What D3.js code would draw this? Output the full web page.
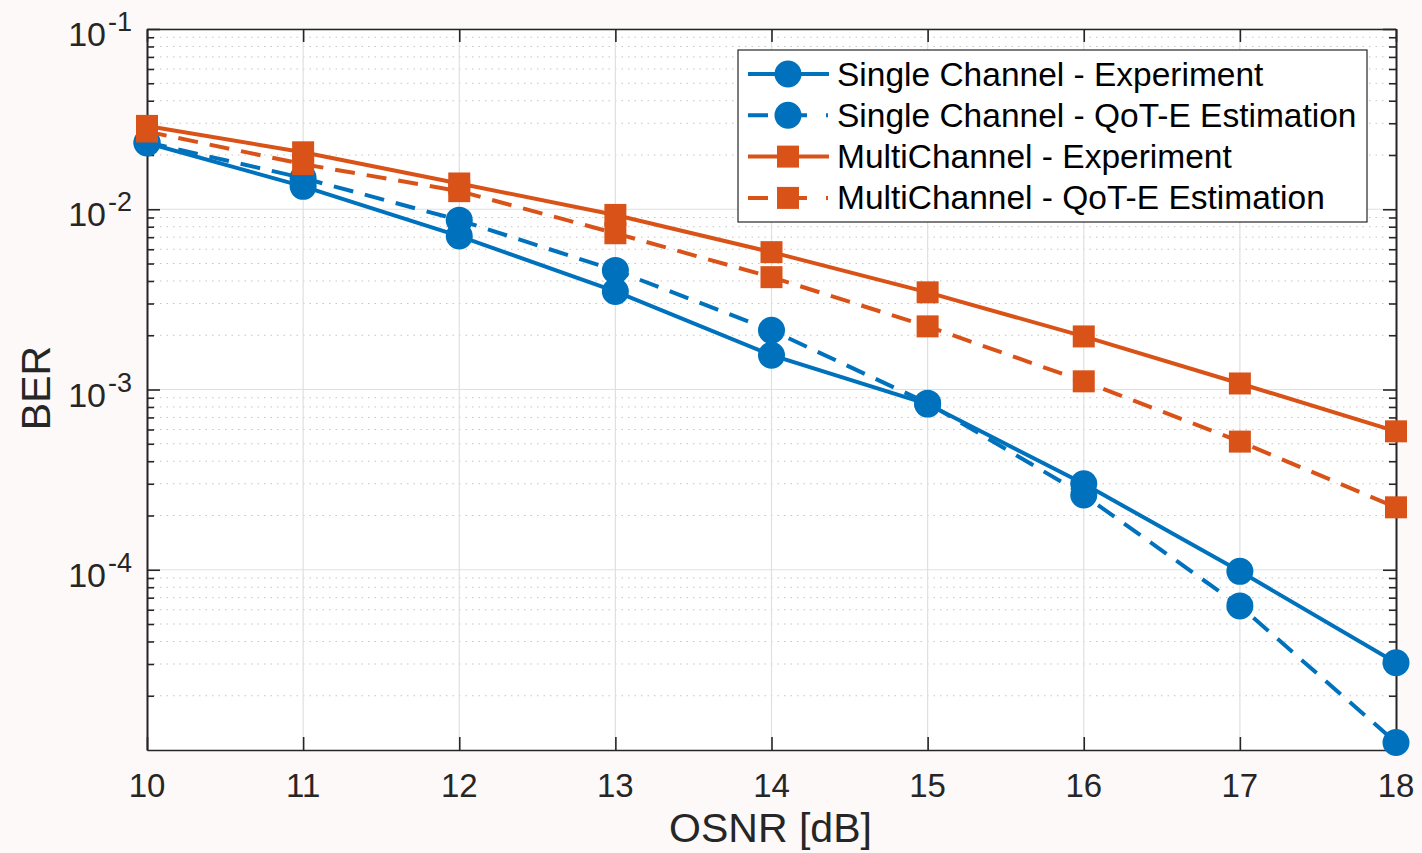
<!DOCTYPE html>
<html>
<head>
<meta charset="utf-8">
<script src="https://cdn.jsdelivr.net/npm/d3@7"></script>
<style>
  body { margin: 0; background: #fdf9f8; }
  text { font-family: Arial, "Liberation Sans", Helvetica, sans-serif; fill: #262626; }
</style>
</head>
<body>
<div class="canva"></div>
<script>
// data
var osnr = [10, 11, 12, 13, 14, 15, 16, 17, 18];
var singleExp = [0.0233, 0.0134, 0.0071, 0.0035, 0.00155, 0.00083, 0.00030, 0.000098, 0.0000305];
var singleEst = [0.0235, 0.0149, 0.0087, 0.00458, 0.00213, 0.00084, 0.00026, 0.000063, 0.000011];
var multiExp = [0.029, 0.0207, 0.0139, 0.0093, 0.00578, 0.00346, 0.00197, 0.00108, 0.000586];
var multiEst = [0.027, 0.0178, 0.0126, 0.00736, 0.0042, 0.00224, 0.00111, 0.000514, 0.000222];
var seriesNames = ['Single Channel - Experiment', 'Single Channel - QoT-E Estimation',
                   'MultiChannel - Experiment', 'MultiChannel - QoT-E Estimation'];
var yTickExp = [-1, -2, -3, -4];

const blue = '#0072bd', orange = '#d95319';
const series = [
  {name: seriesNames[0], values: singleExp, color: blue, dash: null, marker: 'circle'},
  {name: seriesNames[1], values: singleEst, color: blue, dash: '20,12', marker: 'circle'},
  {name: seriesNames[2], values: multiExp, color: orange, dash: null, marker: 'square'},
  {name: seriesNames[3], values: multiEst, color: orange, dash: '20,12', marker: 'square'},
];

const svg = d3.select('.canva').append('svg')
    .attr('width', 1422)
    .attr('height', 853);

const margin = {top: 29, left: 147};
const graphWidth = 1249;
const graphHeight = 721;

const g = svg.append('g')
    .attr('transform', `translate(${margin.left},${margin.top})`);

var x = d3.scaleLinear().domain([10, 18]).range([0, graphWidth]);
var y = d3.scaleLog().domain([1e-5, 1e-1]).range([graphHeight, 0]);

g.append('rect')
    .attr('width', graphWidth).attr('height', graphHeight)
    .attr('fill', '#fff');

// minor tick values
var minorVals = [];
for (var e = -5; e < -1; e++) {
  for (var m = 2; m <= 9; m++) minorVals.push(m * Math.pow(10, e));
}
var majorVals = yTickExp.map(d => Math.pow(10, d));

// grid
g.selectAll('.minor-grid').data(minorVals).enter().append('line')
    .attr('x1', 0).attr('x2', graphWidth)
    .attr('y1', d => y(d)).attr('y2', d => y(d))
    .attr('stroke', '#c4c4c4').attr('stroke-width', 1)
    .attr('stroke-dasharray', '1.5,5');
g.selectAll('.major-grid').data(majorVals).enter().append('line')
    .attr('x1', 0).attr('x2', graphWidth)
    .attr('y1', d => y(d)).attr('y2', d => y(d))
    .attr('stroke', '#e0e0e0').attr('stroke-width', 1.2);
g.selectAll('.x-grid').data(osnr.slice(1, -1)).enter().append('line')
    .attr('x1', d => x(d)).attr('x2', d => x(d))
    .attr('y1', 0).attr('y2', graphHeight)
    .attr('stroke', '#e0e0e0').attr('stroke-width', 1.2);

// axes (ticks inside, box mirrored)
var xAxis = d3.axisBottom(x).tickValues(osnr).tickSize(-13).tickFormat('').tickSizeOuter(0);
var xAxisTop = d3.axisTop(x).tickValues(osnr).tickSize(-13).tickFormat('').tickSizeOuter(0);
var yAxis = d3.axisLeft(y).tickValues(majorVals).tickSize(-13).tickFormat('').tickSizeOuter(0);
var yAxisR = d3.axisRight(y).tickValues(majorVals).tickSize(-13).tickFormat('').tickSizeOuter(0);
var yMinor = d3.axisLeft(y).tickValues(minorVals).tickSize(-7).tickFormat('').tickSizeOuter(0);
var yMinorR = d3.axisRight(y).tickValues(minorVals).tickSize(-7).tickFormat('').tickSizeOuter(0);

g.append('g').attr('class', 'ax').attr('transform', `translate(0,${graphHeight})`).call(xAxis);
g.append('g').attr('class', 'ax').call(xAxisTop);
g.append('g').attr('class', 'ax').call(yAxis);
g.append('g').attr('class', 'ax').call(yMinor);
g.append('g').attr('class', 'ax').attr('transform', `translate(${graphWidth},0)`).call(yAxisR);
g.append('g').attr('class', 'ax').attr('transform', `translate(${graphWidth},0)`).call(yMinorR);
g.selectAll('.ax path, .ax line').attr('stroke', '#262626').attr('stroke-width', 1.6);

// tick labels
g.selectAll('.xlab').data(osnr).enter().append('text')
    .attr('x', d => x(d)).attr('y', graphHeight + 47)
    .attr('text-anchor', 'middle').attr('font-size', 33)
    .text(d => d);

var yl = g.selectAll('.ylab').data(yTickExp).enter().append('text')
    .attr('x', -15).attr('y', d => y(Math.pow(10, d)) + 17)
    .attr('text-anchor', 'end').attr('font-size', 34);
yl.append('tspan').text('10');
yl.append('tspan').attr('dx', 2).attr('dy', -15).attr('font-size', 27).text(d => d);

// axis titles
svg.append('text')
    .attr('transform', 'translate(50,388) rotate(-90)')
    .attr('text-anchor', 'middle').attr('font-size', 41)
    .text('BER');
svg.append('text')
    .attr('x', margin.left + graphWidth / 2 - 1).attr('y', 842)
    .attr('text-anchor', 'middle').attr('font-size', 41)
    .text('OSNR [dB]');

// lines and markers
var valueLine = d3.line()
    .x((d, i) => x(osnr[i]))
    .y(d => y(d));

function drawMarker(sel, s, cx, cy) {
  if (s.marker === 'circle') {
    sel.append('circle').attr('cx', cx).attr('cy', cy).attr('r', 13.5).attr('fill', s.color);
  } else {
    sel.append('rect').attr('x', cx - 11).attr('y', cy - 11)
        .attr('width', 22).attr('height', 22).attr('fill', s.color);
  }
}

series.forEach(s => {
  var sg = g.append('g');
  sg.append('path')
      .datum(s.values)
      .attr('fill', 'none')
      .attr('stroke', s.color)
      .attr('stroke-width', 4)
      .attr('stroke-dasharray', s.dash)
      .attr('d', valueLine);
  s.values.forEach((v, i) => drawMarker(sg, s, x(osnr[i]), y(v)));
});

// legend
const lg = svg.append('g').attr('transform', 'translate(738,50)');
lg.append('rect')
    .attr('width', 629).attr('height', 172)
    .attr('fill', '#fff').attr('stroke', '#262626').attr('stroke-width', 1.2);
series.forEach((s, i) => {
  var cy = 24 + i * 41.3;
  lg.append('line')
      .attr('x1', 10).attr('x2', 91).attr('y1', cy).attr('y2', cy)
      .attr('stroke', s.color).attr('stroke-width', 4)
      .attr('stroke-dasharray', s.dash ? '20,10,29,19,2,10' : null);
  drawMarker(lg, s, 50, cy);
  lg.append('text')
      .attr('x', 99).attr('y', cy + 11.5)
      .attr('font-size', 33.5)
      .style('fill', '#000')
      .text(s.name);
});
</script>
</body>
</html>
